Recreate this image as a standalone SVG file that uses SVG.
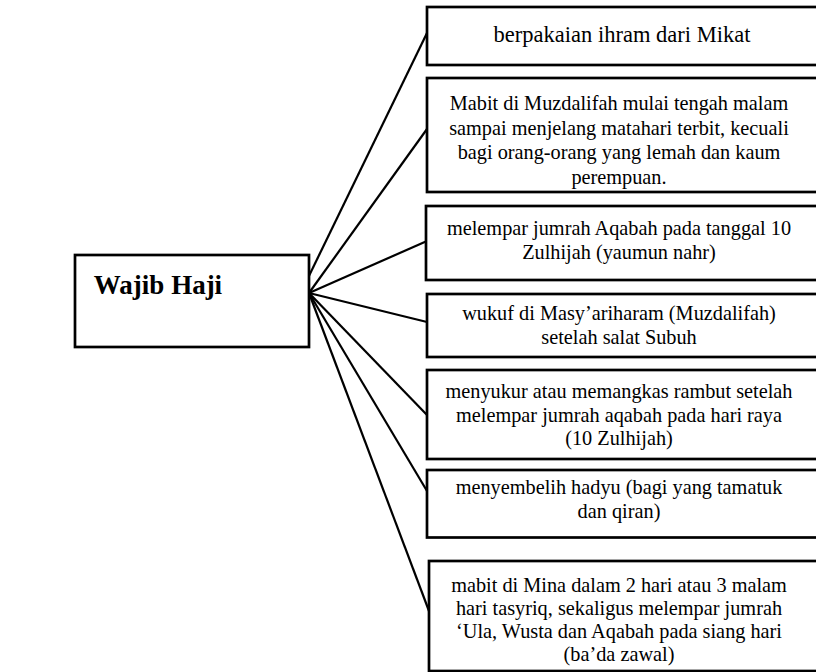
<svg xmlns="http://www.w3.org/2000/svg" width="816" height="672" viewBox="0 0 816 672">
  <style>
    .box { fill: #ffffff; stroke: #000000; stroke-width: 2.7; }
    .link { fill: none; stroke: #000000; stroke-width: 2.2; }
    .item { font-family: "Liberation Serif", "Times New Roman", serif; font-size: 20.3px; fill: #000000; text-anchor: middle; }
    .title { font-family: "Liberation Serif", "Times New Roman", serif; font-size: 27px; font-weight: bold; fill: #000000; text-anchor: middle; }
  </style>
  <rect width="816" height="672" fill="#ffffff"/>

  <!-- spokes from the central node to each item -->
  <g id="connectors">
    <line class="link" x1="307" y1="280" x2="427" y2="33"/>
    <line class="link" x1="309" y1="293" x2="427" y2="129"/>
    <line class="link" x1="309" y1="293" x2="427" y2="241"/>
    <line class="link" x1="309" y1="293" x2="427" y2="322"/>
    <line class="link" x1="309" y1="293" x2="427" y2="415"/>
    <line class="link" x1="309" y1="293" x2="427" y2="491"/>
    <line class="link" x1="309" y1="293" x2="429" y2="611"/>
  </g>

  <g id="wajib-haji">
    <rect class="box" x="75" y="255" width="234" height="92"/>
    <text class="title" x="158" y="294">Wajib Haji</text>
  </g>

  <g id="item-1">
    <rect class="box" x="427" y="7" width="392" height="58"/>
    <text class="item" x="622" y="42" style="font-size:22.5px">berpakaian ihram dari Mikat</text>
  </g>

  <g id="item-2">
    <rect class="box" x="427" y="78" width="392" height="114"/>
    <text class="item" x="619" y="110">Mabit di Muzdalifah mulai tengah malam</text>
    <text class="item" x="619" y="134.5">sampai menjelang matahari terbit, kecuali</text>
    <text class="item" x="619" y="159">bagi orang-orang yang lemah dan kaum</text>
    <text class="item" x="619" y="183.5">perempuan.</text>
  </g>

  <g id="item-3">
    <rect class="box" x="426" y="206" width="393" height="74"/>
    <text class="item" x="619" y="235">melempar jumrah Aqabah pada tanggal 10</text>
    <text class="item" x="619" y="259">Zulhijah (yaumun nahr)</text>
  </g>

  <g id="item-4">
    <rect class="box" x="427" y="294" width="392" height="63"/>
    <text class="item" x="619" y="320">wukuf di Masy’ariharam (Muzdalifah)</text>
    <text class="item" x="619" y="344">setelah salat Subuh</text>
  </g>

  <g id="item-5">
    <rect class="box" x="427" y="370" width="392" height="89"/>
    <text class="item" x="619" y="398">menyukur atau memangkas rambut setelah</text>
    <text class="item" x="619" y="421.5">melempar jumrah aqabah pada hari raya</text>
    <text class="item" x="619" y="445">(10 Zulhijah)</text>
  </g>

  <g id="item-6">
    <rect class="box" x="427" y="470" width="392" height="67.5"/>
    <text class="item" x="619" y="494">menyembelih hadyu (bagi yang tamatuk</text>
    <text class="item" x="619" y="518">dan qiran)</text>
  </g>

  <g id="item-7">
    <rect class="box" x="429" y="561" width="390" height="110"/>
    <text class="item" x="619" y="591.5">mabit di Mina dalam 2 hari atau 3 malam</text>
    <text class="item" x="619" y="614.5">hari tasyriq, sekaligus melempar jumrah</text>
    <text class="item" x="619" y="637.5">‘Ula, Wusta dan Aqabah pada siang hari</text>
    <text class="item" x="619" y="661">(ba’da zawal)</text>
  </g>
</svg>
